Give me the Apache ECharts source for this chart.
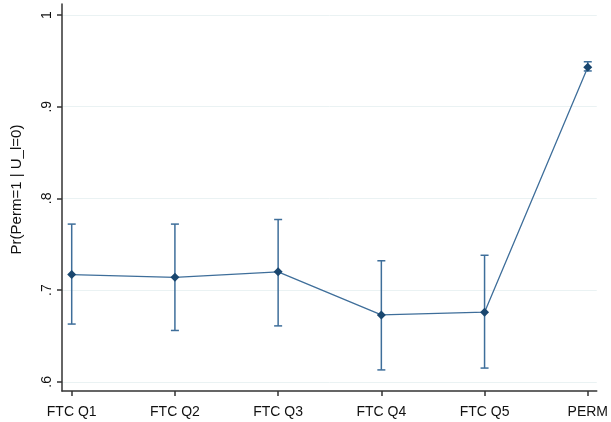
<!DOCTYPE html>
<html>
<head>
<meta charset="utf-8">
<script src="https://cdn.jsdelivr.net/npm/echarts@6/dist/echarts.min.js"></script>
<style>
  html, body { margin: 0; padding: 0; background: #fff; }
  #chart { width: 611px; height: 422px; }
</style>
</head>
<body>
<div id="chart"></div>
<script>
var categories = ['FTC Q1', 'FTC Q2', 'FTC Q3', 'FTC Q4', 'FTC Q5', 'PERM'];
var estimates = [0.717, 0.714, 0.720, 0.673, 0.676, 0.943];
var ciLow = [0.663, 0.656, 0.661, 0.613, 0.615, 0.939];
var ciHigh = [0.772, 0.772, 0.777, 0.732, 0.738, 0.949];
var yTicks = [0.6, 0.7, 0.8, 0.9, 1];
var yTickLabels = ['.6', '.7', '.8', '.9', '1'];

var mychart = echarts.init(document.getElementById('chart'));

var pointData = estimates.map(function (v, i) { return [i, v]; });
var barData = categories.map(function (c, i) { return [i, ciLow[i], ciHigh[i]]; });
var xIdx = categories.map(function (c, i) { return i; });

var option = {
    animation: false,
    backgroundColor: '#ffffff',
    textStyle: { fontFamily: 'Liberation Sans, Arial, sans-serif' },
    grid: { left: 62, right: 12, top: 4, bottom: 31 },
    xAxis: {
        type: 'value',
        min: -0.094,
        max: 5.087,
        axisLine: { show: true, onZero: false, lineStyle: { color: '#333333', width: 1.5 } },
        axisTick: { show: true, length: 5, customValues: xIdx, lineStyle: { color: '#333333', width: 1.5 } },
        axisLabel: {
            customValues: xIdx,
            color: '#111111',
            fontSize: 14,
            margin: 14,
            formatter: function (v) { return categories[Math.round(v)]; }
        },
        splitLine: { show: false }
    },
    yAxis: {
        type: 'value',
        min: 0.590,
        max: 1.012,
        name: 'Pr(Perm=1 | U_l=0)',
        nameLocation: 'middle',
        nameGap: 38,
        nameTextStyle: { color: '#111111', fontSize: 15, padding: [0, 0, 0, 16] },
        axisLine: { show: true, onZero: false, lineStyle: { color: '#333333', width: 1.5 } },
        axisTick: { show: true, length: 5, customValues: yTicks, lineStyle: { color: '#333333', width: 1.5 } },
        axisLabel: {
            customValues: yTicks,
            rotate: 90,
            color: '#111111',
            fontSize: 14,
            margin: 8,
            formatter: function (v) {
                var k = yTicks.indexOf(Math.round(v * 10) / 10);
                return k >= 0 ? yTickLabels[k] : '';
            }
        },
        splitLine: { show: true, lineStyle: { color: '#eaf2f3', width: 1 } }
    },
    series: [
        {
            type: 'custom',
            data: barData,
            z: 2,
            renderItem: function (params, api) {
                var x = api.value(0);
                var lo = api.coord([x, api.value(1)]);
                var hi = api.coord([x, api.value(2)]);
                var cap = 4;
                var st = { stroke: '#3e6e9a', lineWidth: 1.5 };
                return {
                    type: 'group',
                    children: [
                        { type: 'line', shape: { x1: lo[0], y1: lo[1], x2: hi[0], y2: hi[1] }, style: st },
                        { type: 'line', shape: { x1: lo[0] - cap, y1: lo[1], x2: lo[0] + cap, y2: lo[1] }, style: st },
                        { type: 'line', shape: { x1: hi[0] - cap, y1: hi[1], x2: hi[0] + cap, y2: hi[1] }, style: st }
                    ]
                };
            }
        },
        {
            type: 'line',
            data: pointData,
            z: 3,
            symbol: 'diamond',
            symbolSize: 9,
            lineStyle: { color: '#3e6e9a', width: 1.3 },
            itemStyle: { color: '#1a476f' }
        }
    ]
};
mychart.setOption(option);
</script>
</body>
</html>
